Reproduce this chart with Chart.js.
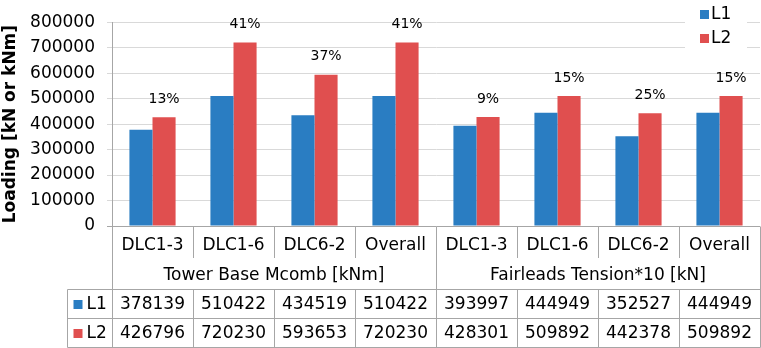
<!DOCTYPE html>
<html><head><meta charset="utf-8">
<script src="https://cdn.jsdelivr.net/npm/chart.js@4.4.0/dist/chart.umd.min.js"></script>
<style>html,body{margin:0;padding:0;background:#fff}#wrap{width:761px;height:348px;position:relative}</style>
</head><body><div id="wrap"><canvas id="c"></canvas></div>
<script>
const categories = ['DLC1-3','DLC1-6','DLC6-2','Overall','DLC1-3','DLC1-6','DLC6-2','Overall'];
const groups = ['Tower Base Mcomb [kNm]','Fairleads Tension*10 [kN]'];
const seriesNames = ['L1','L2'];
const l1Values = [378139,510422,434519,510422,393997,444949,352527,444949];
const l2Values = [426796,720230,593653,720230,428301,509892,442378,509892];
const increaseLabels = ['13%','41%','37%','41%','9%','15%','25%','15%'];
const yMin = 0, yMax = 800000, yStep = 100000;
const yTitle = 'Loading [kN or kNm]';

const FONT = "'DejaVu Sans', Verdana, sans-serif";
const BLUE = '#2A7DC2', RED = '#E04F4F';
const colors = [BLUE, RED];
const LINE = '#a6a6a6';

const tablePlugin = {
  id: 'dataTable',
  beforeDraw(chart) {
    const ctx = chart.ctx;
    ctx.save(); ctx.fillStyle = '#fff'; ctx.fillRect(0,0,chart.width,chart.height); ctx.restore();
  },
  afterDatasetsDraw(chart) {
    const ctx = chart.ctx;
    const meta = chart.getDatasetMeta(1);
    ctx.save();
    ctx.font = '14px ' + FONT;
    ctx.fillStyle = '#000';
    ctx.textAlign = 'center';
    ctx.textBaseline = 'middle';
    meta.data.forEach((bar, i) => {
      ctx.fillText(increaseLabels[i], bar.x, bar.y - 18);
    });
    ctx.restore();
  },
  afterDraw(chart) {
    const {ctx, chartArea: ca, scales} = chart;
    const xs = scales.x, x2 = scales.x2;
    const n = categories.length;
    const cw = (xs.right - xs.left) / n;
    const bounds = [];
    for (let k = 0; k <= n; k++) bounds.push(Math.round(xs.getPixelForValue(0) - cw / 2 + k * cw) + 0.5);
    const yTop = Math.round(ca.bottom) + 0.5;
    const yCat = Math.round(xs.bottom);
    const yGrp = Math.round(x2.bottom) + 0.5;
    const rowH = (chart.height - 1 - yGrp) / 2;
    const rowLines = [yGrp, Math.round(yGrp + rowH) + 0.5, chart.height - 0.5];
    const leftCol = Math.round(xs.left - 45) + 0.5;
    const right = bounds[n];
    ctx.save();
    ctx.strokeStyle = LINE;
    ctx.lineWidth = 1;
    ctx.beginPath();
    ctx.moveTo(bounds[0], yTop); ctx.lineTo(bounds[0], rowLines[2]);
    ctx.moveTo(right, yTop); ctx.lineTo(right, rowLines[2]);
    const mid = bounds[n / 2];
    ctx.moveTo(mid, yTop); ctx.lineTo(mid, rowLines[2]);
    for (let k = 1; k < n; k++) {
      if (k === n / 2) continue;
      ctx.moveTo(bounds[k], yTop); ctx.lineTo(bounds[k], yCat);
      ctx.moveTo(bounds[k], rowLines[0]); ctx.lineTo(bounds[k], rowLines[2]);
    }
    rowLines.forEach(y => { ctx.moveTo(leftCol, y); ctx.lineTo(right, y); });
    ctx.moveTo(leftCol, rowLines[0]); ctx.lineTo(leftCol, rowLines[2]);
    ctx.stroke();

    ctx.font = '17px ' + FONT;
    ctx.fillStyle = '#000';
    ctx.textBaseline = 'middle';
    const series = [l1Values, l2Values];
    series.forEach((vals, r) => {
      const cy = (rowLines[r] + rowLines[r + 1]) / 2 + 1;
      ctx.textAlign = 'center';
      vals.forEach((v, i) => ctx.fillText(String(v), xs.getPixelForValue(i), cy));
      ctx.fillStyle = colors[r];
      ctx.fillRect(leftCol + 6, cy - 5, 9, 9);
      ctx.fillStyle = '#000';
      ctx.textAlign = 'left';
      ctx.fillText(seriesNames[r], leftCol + 19, cy);
    });

    const lx = ca.right - 75, ly = 0;
    ctx.fillStyle = '#fff';
    ctx.fillRect(lx, ly, 62, 52);
    ctx.font = '17px ' + FONT;
    seriesNames.forEach((name, r) => {
      const cy = ly + 14 + r * 24;
      ctx.fillStyle = colors[r];
      ctx.fillRect(lx + 15, cy - 4, 9, 9);
      ctx.fillStyle = '#000';
      ctx.textAlign = 'left';
      ctx.fillText(name, lx + 26, cy + 1);
    });
    ctx.restore();
  }
};

new Chart(document.getElementById('c'), {
  type: 'bar',
  data: {
    labels: categories,
    datasets: [
      { label: seriesNames[0], data: l1Values, backgroundColor: BLUE, xAxisID: 'x', yAxisID: 'y' },
      { label: seriesNames[1], data: l2Values, backgroundColor: RED, xAxisID: 'x', yAxisID: 'y' }
    ]
  },
  options: {
    responsive: true,
    maintainAspectRatio: false,
    animation: false,
    layout: { padding: { left: 0, right: 1, top: 12, bottom: 59 } },
    datasets: { bar: { categoryPercentage: 0.57, barPercentage: 1.0 } },
    plugins: { legend: { display: false }, tooltip: { enabled: false } },
    scales: {
      x: {
        position: 'bottom', weight: 0,
        grid: { display: false }, border: { display: false },
        ticks: { font: { family: FONT, size: 17 }, color: '#000', padding: 1, maxRotation: 0, autoSkip: false },
        afterFit(s) { s.height = 32; }
      },
      x2: {
        type: 'category', labels: groups, position: 'bottom', weight: 1, offset: true,
        grid: { display: false }, border: { display: false },
        ticks: { font: { family: FONT, size: 17 }, color: '#000', padding: -1, maxRotation: 0, autoSkip: false },
        afterFit(s) { s.height = 31; }
      },
      y: {
        min: yMin, max: yMax,
        ticks: { stepSize: yStep, font: { family: FONT, size: 17 }, color: '#000', padding: 12, callback: v => String(v) },
        grid: { color: c => c.tick && c.tick.value === 0 ? LINE : '#d9d9d9', tickLength: 5 },
        border: { color: LINE },
        title: { display: true, text: yTitle, font: { family: FONT, size: 17, weight: 'bold' }, color: '#000', padding: 0 },
        afterFit(s) { s.width = 112; }
      }
    }
  },
  plugins: [tablePlugin]
});
</script>
</body></html>
